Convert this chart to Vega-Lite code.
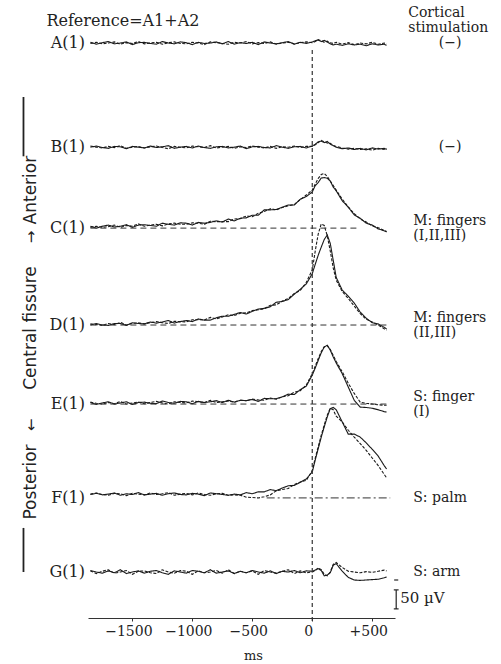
{
"$schema":"https://vega.github.io/schema/vega-lite/v6.json",
"width":307,"height":608,
"autosize":{"type":"none"},
"padding":{"left":88,"top":10,"right":106,"bottom":46},
"background":"white",
"config":{"view":{"stroke":null},"text":{"font":"DejaVu Serif","fontSize":15,"color":"#222"},
 "axisX":{"grid":false,"labelFont":"DejaVu Serif","labelFontSize":14,"labelColor":"#222","domainColor":"#333","tickColor":"#333","tickSize":3,"labelPadding":3,"labelOffset":-4,"labelFlush":false,"labelOverlap":false,"titleFont":"DejaVu Serif","titleFontSize":13,"titleFontWeight":"normal","titleColor":"#222","titleX":165,"titleY":37,"titleBaseline":"middle"}},
"datasets":{
"chan":[
{"c":"A","base":1513,"label":"A(1)","stim":"(−)","ml":false},
{"c":"B","base":1239,"label":"B(1)","stim":"(−)","ml":false},
{"c":"C","base":1026,"label":"C(1)","stim":"M: fingers\n(I,II,III)","ml":true},
{"c":"D","base":771,"label":"D(1)","stim":"M: fingers\n(II,III)","ml":true},
{"c":"E","base":563,"label":"E(1)","stim":"S: finger\n(I)","ml":true},
{"c":"F","base":316,"label":"F(1)","stim":"S: palm","ml":false},
{"c":"G","base":121,"label":"G(1)","stim":"S: arm","ml":false}],
"refs":[{"c":"C","t0":-1850,"t1":385},{"c":"D","t0":-1850,"t1":625},{"c":"E","t0":-1850,"t1":630},{"c":"F","t0":-380,"t1":650}],
"traces":[
{"c":"A","r":1,"t":[-1850,-1800,-1750,-1700,-1650,-1600,-1550,-1500,-1450,-1400,-1350,-1300,-1250,-1200,-1150,-1100,-1050,-1000,-950,-900,-850,-800,-750,-700,-650,-600,-550,-500,-450,-400,-350,-300,-250,-200,-150,-100,-50,0,25,50,75,100,125,150,175,200,250,300,350,400,450,500,550,600,620],
 "v":[2,-3,1,4,-2,0,3,-4,1,2,-1,-3,4,0,-2,3,1,-4,2,-1,0,3,-2,4,-3,1,-1,2,-4,3,0,-2,1,4,-3,2,-1,3,6,8,4,7,3,-2,-5,-3,-6,-2,-5,-3,-7,-2,-5,-3,-6]},
{"c":"A","r":2,"t":[-1850,-1800,-1750,-1700,-1650,-1600,-1550,-1500,-1450,-1400,-1350,-1300,-1250,-1200,-1150,-1100,-1050,-1000,-950,-900,-850,-800,-750,-700,-650,-600,-550,-500,-450,-400,-350,-300,-250,-200,-150,-100,-50,0,25,50,75,100,125,150,175,200,250,300,350,400,450,500,550,600,620],
 "v":[-1,2,-2,0,3,-3,1,-1,4,-2,0,2,-3,1,3,-1,-2,2,0,-4,3,1,-1,-3,2,0,4,-2,1,-1,3,-3,0,2,-2,1,3,1,4,9,6,2,5,1,-1,2,-3,1,-4,0,-2,2,-3,0,-1]},
{"c":"B","r":1,"t":[-1850,-1800,-1750,-1700,-1650,-1600,-1550,-1500,-1450,-1400,-1350,-1300,-1250,-1200,-1150,-1100,-1050,-1000,-950,-900,-850,-800,-750,-700,-650,-600,-550,-500,-450,-400,-350,-300,-250,-200,-150,-100,-50,0,25,50,75,100,125,150,175,200,250,300,350,400,450,500,550,600,620],
 "v":[0,3,-1,-3,2,1,-4,2,0,-2,3,-1,1,4,-3,0,2,-2,3,-1,-3,1,2,-2,0,3,-4,1,2,-1,-2,4,0,-3,1,2,-2,3,8,14,16,12,15,8,4,0,-4,-2,-6,-3,-7,-2,-5,-3,-6]},
{"c":"B","r":2,"t":[-1850,-1800,-1750,-1700,-1650,-1600,-1550,-1500,-1450,-1400,-1350,-1300,-1250,-1200,-1150,-1100,-1050,-1000,-950,-900,-850,-800,-750,-700,-650,-600,-550,-500,-450,-400,-350,-300,-250,-200,-150,-100,-50,0,25,50,75,100,125,150,175,200,250,300,350,400,450,500,550,600,620],
 "v":[3,0,-2,2,-1,4,-3,0,2,-2,1,3,-1,-4,2,0,-2,3,1,-1,4,-2,0,2,-3,1,-1,3,0,-2,2,-3,1,0,3,-1,2,2,6,12,18,14,11,10,5,2,-2,-5,-3,-6,-4,-8,-3,-6,-4]},
{"c":"C","r":1,"t":[-1850,-1800,-1750,-1700,-1650,-1600,-1550,-1500,-1450,-1400,-1350,-1300,-1250,-1200,-1150,-1100,-1050,-1000,-950,-900,-850,-800,-750,-700,-650,-600,-550,-500,-450,-400,-350,-300,-250,-200,-150,-100,-50,0,25,50,75,100,125,150,175,200,250,300,350,400,450,500,550,600,620],
 "v":[5,0,5,8,3,5,9,2,8,9,7,5,13,10,8,14,13,8,15,13,15,19,16,24,19,26,27,34,34,48,48,49,55,61,61,76,83,95,112,120,132,133,131,124,108,98,72,55,35,26,13,8,-2,-7,-10]},
{"c":"C","r":2,"t":[-1850,-1800,-1750,-1700,-1650,-1600,-1550,-1500,-1450,-1400,-1350,-1300,-1250,-1200,-1150,-1100,-1050,-1000,-950,-900,-850,-800,-750,-700,-650,-600,-550,-500,-450,-400,-350,-300,-250,-200,-150,-100,-50,0,25,50,75,100,125,150,175,200,250,300,350,400,450,500,550,600,620],
 "v":[2,5,2,4,8,2,7,5,11,5,8,10,6,11,13,10,10,14,13,10,18,17,17,17,24,25,32,30,39,44,51,48,54,59,62,75,87,100,116,131,141,144,136,124,112,100,76,56,38,24,16,6,1,-6,-9]},
{"c":"D","r":1,"t":[-1850,-1800,-1750,-1700,-1650,-1600,-1550,-1500,-1450,-1400,-1350,-1300,-1250,-1200,-1150,-1100,-1050,-1000,-950,-900,-850,-800,-750,-700,-650,-600,-550,-500,-450,-400,-350,-300,-250,-200,-150,-100,-50,0,25,50,75,100,125,150,175,200,250,300,350,400,450,500,550,600,620],
 "v":[0,4,0,-1,4,4,-1,6,4,3,8,5,8,12,5,9,12,9,16,13,13,19,23,23,28,33,29,36,42,44,48,60,62,67,81,94,108,135,160,184,205,225,237,215,170,125,92,76,58,34,18,6,3,-6,-10]},
{"c":"D","r":2,"t":[-1850,-1800,-1750,-1700,-1650,-1600,-1550,-1500,-1450,-1400,-1350,-1300,-1250,-1200,-1150,-1100,-1050,-1000,-950,-900,-850,-800,-750,-700,-650,-600,-550,-500,-450,-400,-350,-300,-250,-200,-150,-100,-50,0,25,50,75,100,125,150,175,200,250,300,350,400,450,500,550,600,620],
 "v":[3,1,-1,4,1,7,0,4,6,3,6,9,6,4,10,9,8,14,14,13,20,16,21,27,25,31,32,38,40,43,52,53,63,70,83,91,112,145,195,240,266,262,235,195,150,118,88,70,50,30,15,8,0,-10,-13]},
{"c":"E","r":1,"t":[-1850,-1800,-1750,-1700,-1650,-1600,-1550,-1500,-1450,-1400,-1350,-1300,-1250,-1200,-1150,-1100,-1050,-1000,-950,-900,-850,-800,-750,-700,-650,-600,-550,-500,-450,-400,-350,-300,-250,-200,-150,-100,-50,0,25,50,75,100,125,150,175,200,250,300,350,400,450,500,550,600,620],
 "v":[4,-1,3,6,0,3,6,-1,4,5,2,1,8,4,2,7,6,1,7,4,6,9,4,10,5,10,9,12,7,15,14,14,19,26,25,38,47,76,95,115,135,150,155,142,124,108,80,45,10,-8,-9,-11,-15,-20,-21]},
{"c":"E","r":2,"t":[-1850,-1800,-1750,-1700,-1650,-1600,-1550,-1500,-1450,-1400,-1350,-1300,-1250,-1200,-1150,-1100,-1050,-1000,-950,-900,-850,-800,-750,-700,-650,-600,-550,-500,-450,-400,-350,-300,-250,-200,-150,-100,-50,0,25,50,75,100,125,150,175,200,250,300,350,400,450,500,550,600,620],
 "v":[5,2,0,4,1,7,0,3,5,1,4,7,3,0,6,4,3,8,6,4,10,4,6,8,5,10,9,13,11,10,16,13,19,22,31,35,50,80,100,120,138,151,153,144,128,112,85,55,28,5,2,0,-2,-3,-3]},
{"c":"F","r":1,"t":[-1850,-1800,-1750,-1700,-1650,-1600,-1550,-1500,-1450,-1400,-1350,-1300,-1250,-1200,-1150,-1100,-1050,-1000,-950,-900,-850,-800,-750,-700,-650,-600,-550,-500,-450,-400,-350,-300,-250,-200,-150,-100,-50,0,25,50,75,100,125,150,175,200,250,300,350,400,450,500,550,600,620],
 "v":[9,12,8,10,13,7,11,9,14,8,10,12,7,11,13,9,8,12,10,6,13,11,9,7,10,8,14,11,16,16,22,19,26,32,33,41,50,68,100,130,160,187,213,235,238,232,200,168,168,160,145,128,110,85,76]},
{"c":"F","r":2,"t":[-1850,-1800,-1750,-1700,-1650,-1600,-1550,-1500,-1450,-1400,-1350,-1300,-1250,-1200,-1150,-1100,-1050,-1000,-950,-900,-850,-800,-750,-700,-650,-600,-550,-500,-450,-400,-350,-300,-250,-200,-150,-100,-50,0,25,50,75,100,125,150,175,200,250,300,350,400,450,500,550,600,620],
 "v":[10,13,9,7,12,11,6,12,10,8,13,9,11,14,7,10,12,8,13,9,7,11,12,7,8,7,2,1,0,3,8,19,22,25,35,42,46,72,105,135,165,192,218,236,232,215,200,178,160,143,125,105,85,62,53]},
{"c":"G","r":1,"t":[-1850,-1800,-1750,-1700,-1650,-1600,-1550,-1500,-1450,-1400,-1350,-1300,-1250,-1200,-1150,-1100,-1050,-1000,-950,-900,-850,-800,-750,-700,-650,-600,-550,-500,-450,-400,-350,-300,-250,-200,-150,-100,-50,0,25,50,75,100,125,150,175,200,250,300,350,400,450,500,550,600,620],
 "v":[4,0,-3,3,-2,6,-4,0,3,-3,2,4,-2,-6,3,0,-3,4,2,-2,6,-3,0,3,-4,2,-2,4,0,-3,3,-4,2,0,4,-2,3,2,5,9,4,-10,-8,-2,18,22,2,-14,-21,-22,-21,-20,-19,-15,-13]},
{"c":"G","r":2,"t":[-1850,-1800,-1750,-1700,-1650,-1600,-1550,-1500,-1450,-1400,-1350,-1300,-1250,-1200,-1150,-1100,-1050,-1000,-950,-900,-850,-800,-750,-700,-650,-600,-550,-500,-450,-400,-350,-300,-250,-200,-150,-100,-50,0,25,50,75,100,125,150,175,200,250,300,350,400,450,500,550,600,620],
 "v":[3,-4,2,6,-3,0,4,-6,2,3,-2,-4,6,0,-3,4,2,-6,3,-2,0,4,-3,6,-4,2,-2,3,-6,4,0,-3,2,6,-4,3,-2,0,4,11,6,-6,-10,0,20,25,12,2,0,-2,1,-1,2,5,3]}
]},
"layer":[
{"data":{"name":"traces"},
 "transform":[{"flatten":["t","v"]},{"lookup":"c","from":{"data":{"name":"chan"},"key":"c","fields":["base"]}},{"calculate":"datum.base + datum.v","as":"level"}],
 "mark":{"type":"line","strokeWidth":1.1,"color":"#1a1a1a"},
 "encoding":{
  "x":{"field":"t","type":"quantitative","title":"ms","scale":{"domain":[-1870,690],"nice":false,"zero":false},
   "axis":{"values":[-1500,-1000,-500,0,500],"labelExpr":"datum.value < 0 ? '−' + abs(datum.value) : (datum.value > 0 ? '+' + datum.value : '0')"}},
  "y":{"field":"level","type":"quantitative","scale":{"domain":[0,1600],"nice":false,"zero":false},"axis":null},
  "detail":{"field":"c"},
  "strokeDash":{"field":"r","type":"nominal","scale":{"domain":[1,2],"range":[[1,0],[3,1.5]]},"legend":null}
 }},
{"data":{"name":"refs"},
 "transform":[{"filter":"datum.c !== 'F'"},{"lookup":"c","from":{"data":{"name":"chan"},"key":"c","fields":["base"]}}],
 "mark":{"type":"rule","strokeDash":[6,4],"strokeWidth":1,"color":"#333"},
 "encoding":{"x":{"field":"t0","type":"quantitative","title":"ms"},"x2":{"field":"t1"},"y":{"field":"base","type":"quantitative","axis":null}}},
{"data":{"name":"refs"},
 "transform":[{"filter":"datum.c === 'F'"},{"lookup":"c","from":{"data":{"name":"chan"},"key":"c","fields":["base"]}}],
 "mark":{"type":"rule","strokeDash":[8,3,2,3],"strokeWidth":1,"color":"#333"},
 "encoding":{"x":{"field":"t0","type":"quantitative","title":"ms"},"x2":{"field":"t1"},"y":{"field":"base","type":"quantitative","axis":null}}},
{"data":{"values":[{}]},
 "mark":{"type":"rule","strokeDash":[4,3],"strokeWidth":1.2,"color":"#333"},
 "encoding":{"x":{"datum":0},"y":{"datum":-8,"axis":null},"y2":{"datum":1495}}},
{"data":{"name":"chan"},
 "mark":{"type":"text","align":"right","baseline":"middle","font":"DejaVu Serif","fontSize":16},
 "encoding":{"x":{"datum":-1895},"y":{"field":"base","type":"quantitative","axis":null},"text":{"field":"label"}}},
{"data":{"name":"chan"},
 "transform":[{"filter":"datum.ml"}],
 "mark":{"type":"text","align":"left","baseline":"middle","dy":-7,"font":"DejaVu Serif","fontSize":14,"lineBreak":"\n","lineHeight":15},
 "encoding":{"x":{"datum":842},"y":{"field":"base","type":"quantitative","axis":null},"text":{"field":"stim"}}},
{"data":{"name":"chan"},
 "transform":[{"filter":"!datum.ml && datum.stim !== '(−)'"}],
 "mark":{"type":"text","align":"left","baseline":"middle","font":"DejaVu Serif","fontSize":14},
 "encoding":{"x":{"datum":842},"y":{"field":"base","type":"quantitative","axis":null},"text":{"field":"stim"}}},
{"data":{"name":"chan"},
 "transform":[{"filter":"datum.stim === '(−)'"}],
 "mark":{"type":"text","align":"center","baseline":"middle","font":"DejaVu Serif","fontSize":14},
 "encoding":{"x":{"datum":1150},"y":{"field":"base","type":"quantitative","axis":null},"text":{"field":"stim"}}},
{"data":{"values":[{}]},
 "mark":{"type":"text","align":"left","baseline":"middle","font":"DejaVu Serif","fontSize":14,"lineBreak":"\n","lineHeight":15,"text":"Cortical\nstimulation"},
 "encoding":{"x":{"datum":800},"y":{"datum":1592,"axis":null}}},
{"data":{"values":[{}]},
 "mark":{"type":"text","align":"left","baseline":"middle","font":"DejaVu Serif","fontSize":16,"text":"Reference=A1+A2"},
 "encoding":{"x":{"datum":-2217},"y":{"datum":1571,"axis":null}}},
{"data":{"values":[{}]},
 "mark":{"type":"text","align":"left","baseline":"middle","font":"DejaVu Serif","fontSize":15,"text":"50 µV"},
 "encoding":{"x":{"datum":733},"y":{"datum":53,"axis":null}}},
{"data":{"values":[{}]},
 "mark":{"type":"rule","strokeWidth":1.2,"color":"#222"},
 "encoding":{"x":{"datum":700},"y":{"datum":24,"axis":null},"y2":{"datum":74}}},
{"data":{"values":[{}]},
 "mark":{"type":"rule","strokeWidth":1.2,"color":"#222"},
 "encoding":{"x":{"datum":680},"x2":{"datum":720},"y":{"datum":74,"axis":null}}},
{"data":{"values":[{}]},
 "mark":{"type":"rule","strokeWidth":1.2,"color":"#222"},
 "encoding":{"x":{"datum":680},"x2":{"datum":720},"y":{"datum":24,"axis":null}}},
{"data":{"values":[{}]},
 "mark":{"type":"rule","strokeWidth":1.2,"color":"#222"},
 "encoding":{"x":{"datum":683},"x2":{"datum":717},"y":{"datum":100,"axis":null}}},
{"data":{"values":[{}]},
 "mark":{"type":"rule","strokeWidth":1.8,"color":"#222"},
 "encoding":{"x":{"datum":-2408},"y":{"datum":1371,"axis":null},"y2":{"datum":1215}}},
{"data":{"values":[{}]},
 "mark":{"type":"rule","strokeWidth":1.8,"color":"#222"},
 "encoding":{"x":{"datum":-2408},"y":{"datum":237,"axis":null},"y2":{"datum":121}}},
{"data":{"values":[{}]},
 "mark":{"type":"text","angle":270,"align":"center","baseline":"middle","font":"DejaVu Sans","fontSize":17,"text":"Anterior"},
 "encoding":{"x":{"datum":-2342},"y":{"datum":1126,"axis":null}}},
{"data":{"values":[{}]},
 "mark":{"type":"text","angle":270,"align":"center","baseline":"middle","font":"DejaVu Sans","fontSize":15,"text":"→"},
 "encoding":{"x":{"datum":-2342},"y":{"datum":1003,"axis":null}}},
{"data":{"values":[{}]},
 "mark":{"type":"text","angle":270,"align":"center","baseline":"middle","font":"DejaVu Sans","fontSize":17,"text":"Central fissure"},
 "encoding":{"x":{"datum":-2342},"y":{"datum":763,"axis":null}}},
{"data":{"values":[{}]},
 "mark":{"type":"text","angle":270,"align":"center","baseline":"middle","font":"DejaVu Sans","fontSize":15,"text":"←"},
 "encoding":{"x":{"datum":-2342},"y":{"datum":508,"axis":null}}},
{"data":{"values":[{}]},
 "mark":{"type":"text","angle":270,"align":"center","baseline":"middle","font":"DejaVu Sans","fontSize":17,"text":"Posterior"},
 "encoding":{"x":{"datum":-2342},"y":{"datum":358,"axis":null}}}
]
}
